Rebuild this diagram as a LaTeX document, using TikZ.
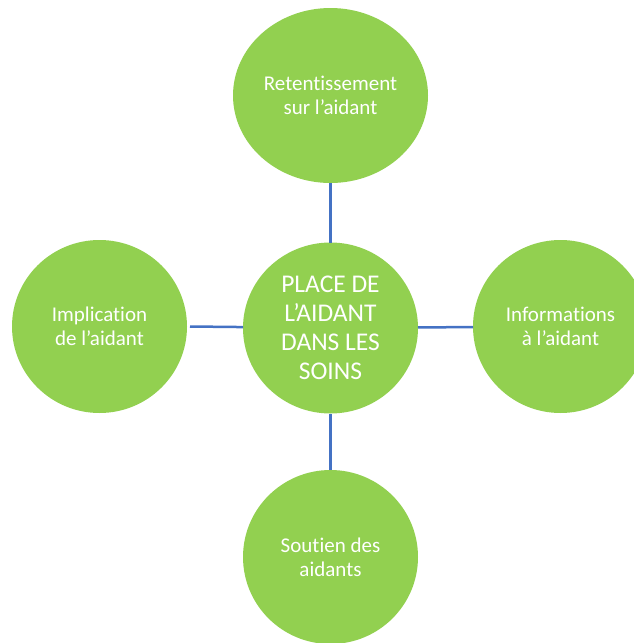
\documentclass[tikz,border=0pt]{standalone}
\usepackage{fontspec}
\setmainfont{Carlito}[Ligatures={NoCommon}]
\usetikzlibrary{shapes.geometric}
\definecolor{leaf}{HTML}{92D050}
\definecolor{linkblue}{HTML}{4472C4}
\tikzset{
  bubble/.style={ellipse, fill=leaf, draw=none, inner sep=0pt, outer sep=0pt,
    align=center, text=white, font=\fontsize{21}{24}\selectfont},
  hub/.style={bubble, font=\fontsize{25.5}{29}\selectfont},
  link/.style={draw=linkblue, line width=2.5pt}
}
\begin{document}
\begin{tikzpicture}[x=1pt,y=-1pt]
\useasboundingbox (0,0) rectangle (634,643);
\clip (0,0) rectangle (634,643);
\node[hub, minimum width=175pt, minimum height=171pt] (c) at (330.5,328) {PLACE DE\\L'AIDANT\\DANS LES\\SOINS};
\node[bubble, minimum width=195pt, minimum height=175pt] (t) at (330.5,95.5) {Retentissement\\sur l'aidant};
\node[bubble, minimum width=175pt, minimum height=173pt] (l) at (99.5,326.5) {Implication\\de l'aidant};
\node[bubble, minimum width=175pt, minimum height=173pt] (r) at (560.5,326.5) {Informations\\à l’aidant};
\node[bubble, minimum width=175pt, minimum height=174pt] (b) at (330.5,557) {Soutien des\\aidants};
\draw[link] (t) -- (c);
\draw[link] ([xshift=3pt]l.east) -- (c);
\draw[link] (c) -- (r);
\draw[link] (c) -- (b);
\end{tikzpicture}
\end{document}
